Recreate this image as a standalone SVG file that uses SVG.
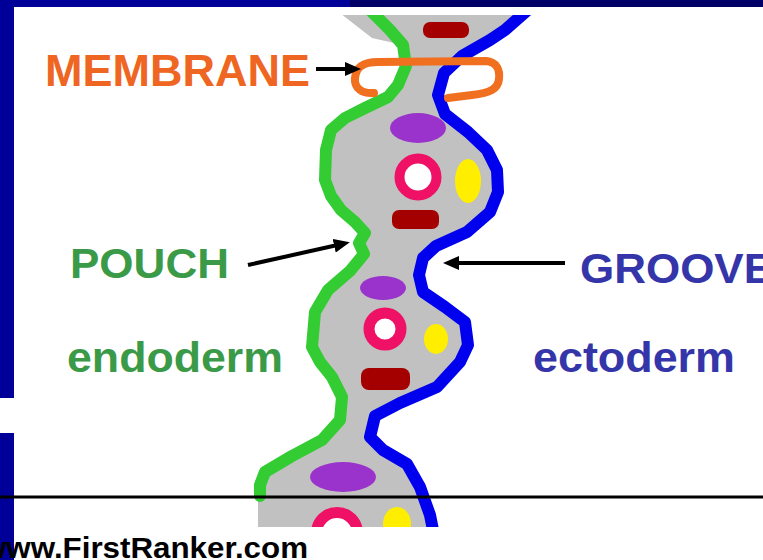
<svg xmlns="http://www.w3.org/2000/svg" width="763" height="560" viewBox="0 0 763 560">
  <style>
    .lbl { font-family: "Liberation Sans", Arial, sans-serif; font-weight: bold; }
    .orange { fill: #EE6622; }
    .green { fill: #3A9A48; }
    .blue { fill: #3535AA; }
    .arrow { stroke: #000; stroke-width: 4; fill: none; marker-end: url(#head); }
    .maroon { fill: #A50000; }
    .purple { fill: #9933CC; }
    .ring { fill: #FFFFFF; stroke: #EE1166; }
    .yellow { fill: #FFEE00; }
  </style>
  <defs>
    <marker id="head" markerUnits="userSpaceOnUse" markerWidth="16" markerHeight="14" refX="8" refY="7" orient="auto">
      <path d="M0,0 L16,7 L0,14 z" fill="#000"/>
    </marker>
    <clipPath id="sheet">
      <rect x="0" y="15" width="763" height="512"/>
    </clipPath>
  </defs>

  <rect x="0" y="0" width="763" height="560" fill="#FFFFFF"/>

  <!-- slide frame -->
  <g id="frame">
    <rect x="0" y="0" width="350" height="7" fill="#000099"/>
    <rect x="350" y="0" width="413" height="7" fill="#000066"/>
    <rect x="0" y="0" width="14" height="398" fill="#000099"/>
    <rect x="0" y="433" width="14" height="127" fill="#000099"/>
  </g>

  <!-- tissue strip between the two germ layers -->
  <g id="tissue" clip-path="url(#sheet)">
    <path fill="#C1C1C1" d="M336,10 L532,10 L505,30 L490,40 L462,56 L444,73 L438,95 L445,114 L468,132 L487,150 L497,170 L498,192 L490,212 L467,232 L436,246 L423,258 L419,275 L423,292 L445,307 L465,322 L468,345 L460,362 L437,387 L400,403 L375,416 L370,437 L383,450 L407,464 L420,487 L430,515 L433,530 L258,530 L258,497 L260,485 L265,472 L292,456 L322,440 L340,420 L342,397 L332,377 L320,362 L312,347 L315,312 L328,290 L350,271 L364,254 L359,243 L365,233 L355,222 L341,210 L331,196 L325,180 L326,150 L331,130 L345,118 L365,108 L388,97 L398,85 L406,66 L403,45 L372,38 Z"/>

    <!-- cell contents -->
    <rect class="maroon" x="423" y="22" width="46" height="16" rx="7"/>
    <ellipse class="purple" cx="418" cy="128" rx="28" ry="15"/>
    <circle class="ring" cx="418" cy="177" r="18.5" stroke-width="10"/>
    <ellipse class="yellow" cx="468" cy="181" rx="13" ry="22"/>
    <rect class="maroon" x="392" y="210" width="47" height="19" rx="7"/>
    <ellipse class="purple" cx="383" cy="288" rx="23" ry="12"/>
    <circle class="ring" cx="385" cy="329" r="16" stroke-width="11"/>
    <ellipse class="yellow" cx="436" cy="339" rx="12" ry="15"/>
    <rect class="maroon" x="361" y="368" width="49" height="22" rx="8"/>
    <ellipse class="purple" cx="343" cy="477" rx="33" ry="15"/>
    <circle class="ring" cx="337" cy="533" r="20.5" stroke-width="11"/>
    <ellipse class="yellow" cx="397" cy="524" rx="14" ry="17"/>

    <!-- endoderm border (pouch side) -->
    <path fill="none" stroke="#33CC33" stroke-width="12" stroke-linejoin="round" stroke-linecap="round" d="M370,10 L390,30 L403,45 L406,66 L398,85 L388,97 L365,108 L345,118 L331,130 L326,150 L325,180 L331,196 L341,210 L355,222 L365,233 L359,243 L364,254 L350,271 L328,290 L315,312 L312,347 L320,362 L332,377 L342,397 L340,420 L322,440 L292,456 L265,472 L260,485 L260,496"/>

    <!-- ectoderm border (groove side) -->
    <path fill="none" stroke="#0000EE" stroke-width="12" stroke-linejoin="round" stroke-linecap="round" d="M530,8 L505,30 L490,40 L462,56 L444,73 L438,95 L445,114 L468,132 L487,150 L497,170 L498,192 L490,212 L467,232 L436,246 L423,258 L419,275 L423,292 L445,307 L465,322 L468,345 L460,362 L437,387 L400,403 L375,416 L370,437 L383,450 L407,464 L420,487 L430,515 L434,535"/>

    <!-- closing membrane -->
    <path fill="none" stroke="#F07020" stroke-width="8" stroke-linejoin="round" stroke-linecap="round" d="M374,93 C362,94 354,88 355,78 C356,67 363,62 378,62 L486,61 C497,62 500,70 499,79 C498,89 490,93 472,95 L448,98"/>
  </g>

  <!-- footer rule -->
  <line x1="0" y1="497" x2="763" y2="497" stroke="#000" stroke-width="3"/>

  <!-- labels -->
  <g id="membrane">
    <text class="lbl orange" x="45" y="86" font-size="45" textLength="265" lengthAdjust="spacingAndGlyphs">MEMBRANE</text>
  </g>
  <g id="pouch">
    <text class="lbl green" x="70" y="278" font-size="42" textLength="159" lengthAdjust="spacingAndGlyphs">POUCH</text>
  </g>
  <g id="groove">
    <text class="lbl blue" x="580" y="283" font-size="42" textLength="193" lengthAdjust="spacingAndGlyphs">GROOVE</text>
  </g>
  <g id="endoderm">
    <text class="lbl green" x="67" y="372" font-size="43" textLength="216" lengthAdjust="spacingAndGlyphs">endoderm</text>
  </g>
  <g id="ectoderm">
    <text class="lbl blue" x="533" y="372" font-size="43" textLength="202" lengthAdjust="spacingAndGlyphs">ectoderm</text>
  </g>
  <g id="footer">
    <text class="lbl" fill="#000" x="-18" y="558" font-size="30" textLength="326" lengthAdjust="spacingAndGlyphs">www.FirstRanker.com</text>
  </g>

  <!-- connectors -->
  <g id="connectors">
    <line class="arrow" x1="316" y1="69" x2="353" y2="69"/>
    <line class="arrow" x1="248" y1="265" x2="342" y2="244"/>
    <line class="arrow" x1="565" y1="263" x2="451" y2="263"/>
  </g>
</svg>
